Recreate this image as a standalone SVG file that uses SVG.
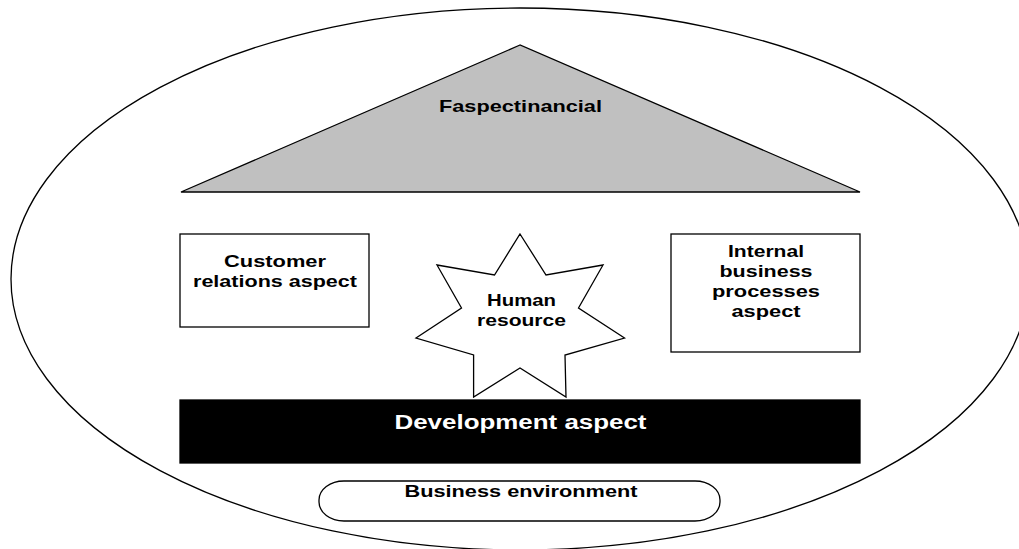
<svg xmlns="http://www.w3.org/2000/svg" width="1019" height="549" viewBox="0 0 1019 549">
  <style>
    .ln { stroke: #000; stroke-width: 1.3; }
    .t { font-family: "Liberation Sans", Arial, sans-serif; font-weight: bold; font-size: 17px; text-anchor: middle; fill: #000; }
    .tw { fill: #fff; font-size: 19.5px; }
  </style>
  <rect width="1019" height="549" fill="#fff"/>
  <g id="environment-ellipse">
    <ellipse class="ln" cx="520" cy="279" rx="509" ry="271" fill="#fff"/>
  </g>
  <g id="financial">
    <polygon class="ln" points="520,45 181,192 860,192" fill="#c0c0c0"/>
    <text class="t" x="520.5" y="112" textLength="163" lengthAdjust="spacingAndGlyphs">Faspectinancial</text>
  </g>
  <g id="customer">
    <rect class="ln" x="180" y="234" width="189" height="93" fill="#fff"/>
    <text class="t" x="275" y="267" textLength="102" lengthAdjust="spacingAndGlyphs">Customer</text>
    <text class="t" x="275" y="287" textLength="164" lengthAdjust="spacingAndGlyphs">relations aspect</text>
  </g>
  <g id="internal">
    <rect class="ln" x="671" y="234" width="189" height="118" fill="#fff"/>
    <text class="t" x="766" y="257" textLength="76" lengthAdjust="spacingAndGlyphs">Internal</text>
    <text class="t" x="766" y="277" textLength="93" lengthAdjust="spacingAndGlyphs">business</text>
    <text class="t" x="766" y="297" textLength="108" lengthAdjust="spacingAndGlyphs">processes</text>
    <text class="t" x="766" y="317" textLength="69" lengthAdjust="spacingAndGlyphs">aspect</text>
  </g>
  <g id="human">
    <polygon class="ln" fill="#fff" points="520,234 546,275 603,265 578.5,308 624.5,338 565,355 566,397 520,368 473.6,397 473.6,355 416,338 461.5,308 437,265 494.5,275"/>
    <text class="t" x="521.5" y="306" textLength="69" lengthAdjust="spacingAndGlyphs">Human</text>
    <text class="t" x="521.5" y="326" textLength="89" lengthAdjust="spacingAndGlyphs">resource</text>
  </g>
  <g id="development">
    <rect class="ln" x="180" y="400" width="680" height="63" fill="#000"/>
    <text class="t tw" x="520.5" y="429" textLength="252" lengthAdjust="spacingAndGlyphs">Development aspect</text>
  </g>
  <g id="business-environment">
    <rect class="ln" x="319" y="481" width="401" height="40" rx="25" ry="19" fill="#fff"/>
    <text class="t" x="521" y="497" textLength="233" lengthAdjust="spacingAndGlyphs">Business environment</text>
  </g>
  <g id="connectors"/>
</svg>
